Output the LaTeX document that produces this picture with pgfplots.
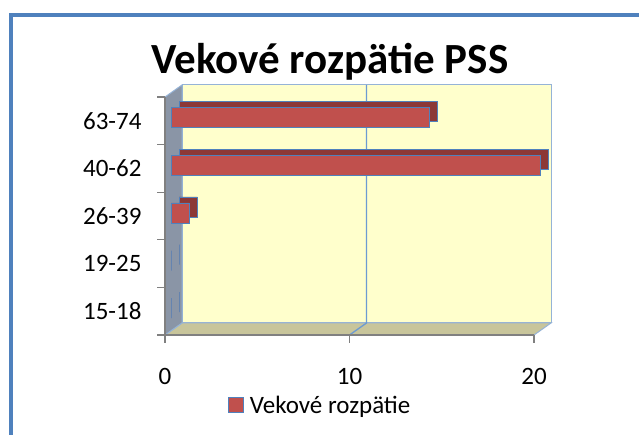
\documentclass[border=0pt]{standalone}
\usepackage{pgfplots}
\pgfplotsset{compat=1.18}
\usepackage{fontspec}
\setmainfont{Carlito}

\definecolor{barred}{RGB}{192,80,77}
\definecolor{bardark}{RGB}{140,56,54}
\definecolor{edgeblue}{RGB}{79,129,189}
\definecolor{wallyellow}{RGB}{255,255,204}
\definecolor{floortan}{RGB}{200,197,155}
\definecolor{sidegrey}{RGB}{138,149,166}
\definecolor{gridblue}{RGB}{108,155,210}

\begin{document}
\begin{tikzpicture}
  \fill[white] (0pt,0pt) rectangle (639pt,435pt);
  \useasboundingbox (0pt,0pt) rectangle (639pt,435pt);
  % outer chart frame (cut at right and bottom)
  \draw[edgeblue, line width=3.5pt] (11pt,0pt) -- (11pt,420pt) -- (639pt,420pt);
  \node[anchor=base, font=\fontsize{43}{43}\selectfont\bfseries] at (330pt,361pt) {Vekové rozpätie PSS};

  \begin{axis}[
      axis on top, clip=false,
      at={(165pt,100pt)}, anchor=south west,
      scale only axis, width=369pt, height=238pt,
      xmin=0, xmax=20, ymin=-0.5, ymax=4.5,
      axis x line*=bottom, axis y line*=left,
      axis line style={-, gray, line width=1.2pt},
      tick style={gray, line width=1.2pt},
      tick align=outside, major tick length=8pt,
      xtick={0,10,20},
      ytick={-0.5,0.5,1.5,2.5,3.5,4.5}, yticklabels={},
      extra y ticks={0,1,2,3,4},
      extra y tick labels={15-18,19-25,26-39,40-62,63-74},
      extra y tick style={major tick length=0pt},
      tick label style={font=\fontsize{25}{25}\selectfont},
      /pgf/number format/assume math mode=true,
      xticklabel style={yshift=-22pt},
      yticklabel style={xshift=-20pt},
      legend style={at={(0.17,-0.296)}, anchor=west, draw=none, fill=none,
        font=\fontsize{25}{25}\selectfont, inner sep=0pt},
      legend image code/.code={\draw[fill=barred, draw=edgeblue, line width=1pt] (0pt,-7.5pt) rectangle (15pt,7.5pt);},
    ]
    % back wall
    \fill[wallyellow, draw=edgeblue!60, line width=1pt]
      ([shift={(17pt,12pt)}]axis cs:0,-0.5) rectangle ([shift={(17pt,12pt)}]axis cs:20,4.5);
    % floor
    \fill[floortan, draw=edgeblue!60, line width=1pt]
      (axis cs:0,-0.5) -- (axis cs:20,-0.5) -- ([shift={(17pt,12pt)}]axis cs:20,-0.5)
      -- ([shift={(17pt,12pt)}]axis cs:0,-0.5) -- cycle;
    % side wall
    \fill[sidegrey, draw=edgeblue!60, line width=1pt]
      (axis cs:0,-0.5) -- ([shift={(17pt,12pt)}]axis cs:0,-0.5)
      -- ([shift={(17pt,12pt)}]axis cs:0,4.5) -- (axis cs:0,4.5) -- cycle;
    % gridline at 10
    \draw[gridblue, line width=1.3pt] (axis cs:10,-0.5) -- ([shift={(17pt,12pt)}]axis cs:10,-0.5)
      -- ([shift={(17pt,12pt)}]axis cs:10,4.5);

    % top and side faces of the 3D bars
    \addplot[xbar, bar width=20pt, bar shift=9pt, xshift=14pt,
      fill=bardark, draw=edgeblue, line width=0.6pt, forget plot]
      coordinates {(0,0) (0,1) (1,2) (20,3) (14,4)};
    % front faces
    \addplot[xbar, bar width=20pt, bar shift=3pt, xshift=6pt,
      fill=barred, draw=edgeblue, line width=0.8pt]
      coordinates {(0,0) (0,1) (1,2) (20,3) (14,4)};
    \addlegendentry{\hspace{4pt}Vekové rozpätie}
  \end{axis}
\end{tikzpicture}
\end{document}
